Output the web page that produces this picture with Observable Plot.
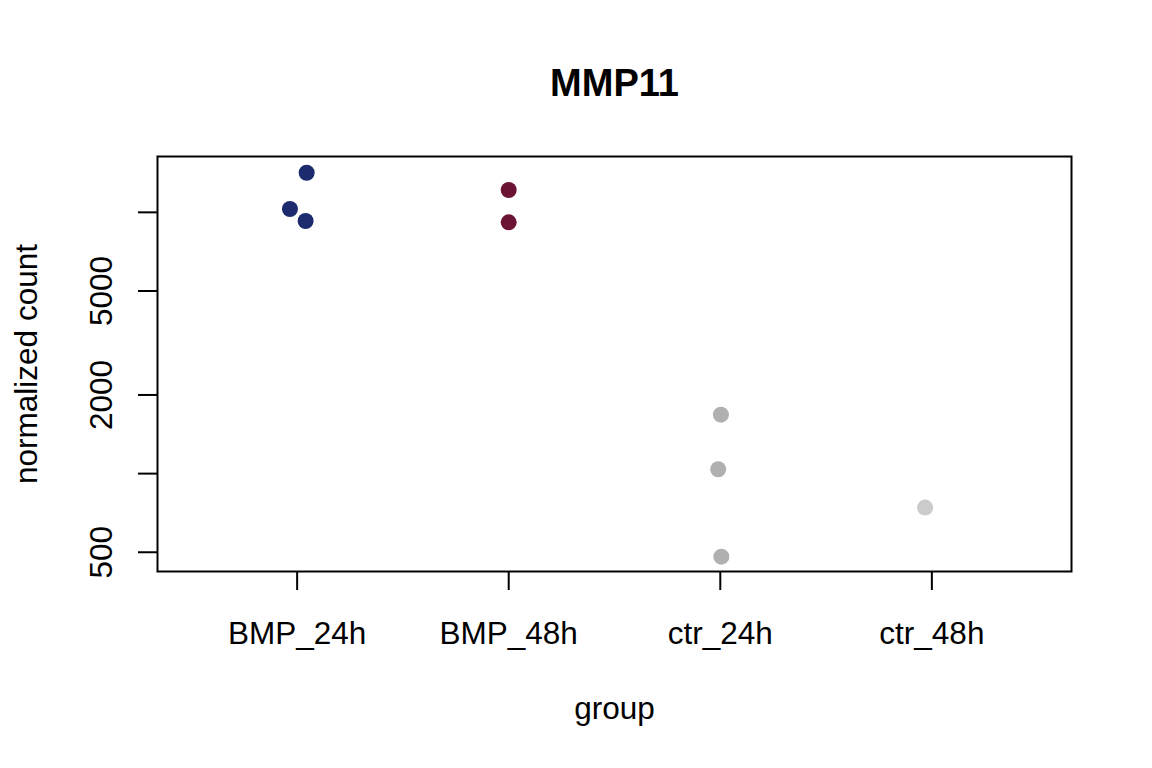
<!DOCTYPE html>
<html>
<head>
<meta charset="utf-8">
<script src="https://cdn.jsdelivr.net/npm/d3@7"></script>
<script src="https://cdn.jsdelivr.net/npm/@observablehq/plot@0.6"></script>
<style>
  html, body { margin: 0; padding: 0; background: #fff; }
  #chart svg { display: block; }
</style>
</head>
<body>
<div id="chart"></div>
<script>
// ---- data ----
const title = "MMP11";
const groups = ["BMP_24h", "BMP_48h", "ctr_24h", "ctr_48h"];
const groupColors = ["#1c2a6e", "#6c1435", "#b0b0b0", "#cbcbcb"];
const sampleGroup = ["BMP_24h", "BMP_24h", "BMP_24h", "BMP_48h", "BMP_48h", "ctr_24h", "ctr_24h", "ctr_24h", "ctr_48h"];
const sampleX = [1.045, 0.966, 1.040, 2.0, 2.0, 3.003, 2.990, 3.005, 3.968];
const sampleCount = [14180, 10300, 9267, 12176, 9160, 1681, 1039, 481, 741];
const yTicks = [500, 1000, 2000, 5000, 10000];
const yTickLabels = ["500", "", "2000", "5000", ""];
const xLabel = "group";
const yLabel = "normalized count";

const samples = sampleCount.map((c, i) => ({group: sampleGroup[i], x: sampleX[i], count: c}));
const yTickData = yTicks.map((v, i) => ({v, label: yTickLabels[i]}));

const font = "'Liberation Sans', Arial, Helvetica, sans-serif";
const fs = 31.5;

const chart = Plot.plot({
  width: 1152,
  height: 768,
  marginLeft: 157,
  marginRight: 81,
  marginTop: 156,
  marginBottom: 197,
  style: {fontFamily: font, fontSize: fs + "px", color: "black", background: "white"},
  x: {type: "linear", domain: [0.34, 4.66]},
  y: {type: "log", domain: [422, 16360]},
  color: {type: "ordinal", domain: groups, range: groupColors},
  marks: [
    Plot.frame({stroke: "black", strokeWidth: 2}),
    Plot.axisX({
      ticks: [1, 2, 3, 4],
      tickFormat: (d) => groups[d - 1],
      tickSize: 19,
      tickPadding: 31,
      strokeWidth: 2,
      fontSize: fs,
      label: null
    }),
    Plot.axisY({
      ticks: yTicks,
      tickSize: 19,
      tickFormat: () => "",
      strokeWidth: 2,
      label: null
    }),
    Plot.text(yTickData, {
      y: "v",
      text: "label",
      frameAnchor: "left",
      dx: -56,
      rotate: -90,
      textAnchor: "middle",
      lineAnchor: "middle",
      fontSize: fs
    }),
    Plot.dot(samples, {x: "x", y: "count", fill: "group", r: 8, stroke: "none"}),
    Plot.text([title], {
      frameAnchor: "top",
      dy: -73,
      lineAnchor: "middle",
      fontSize: 38,
      fontWeight: "bold"
    }),
    Plot.text([xLabel], {
      frameAnchor: "bottom",
      dy: 137,
      lineAnchor: "middle",
      fontSize: fs
    }),
    Plot.text([yLabel], {
      frameAnchor: "left",
      dx: -131,
      rotate: -90,
      textAnchor: "middle",
      lineAnchor: "middle",
      fontSize: fs
    })
  ]
});
document.getElementById("chart").appendChild(chart);
</script>
</body>
</html>
